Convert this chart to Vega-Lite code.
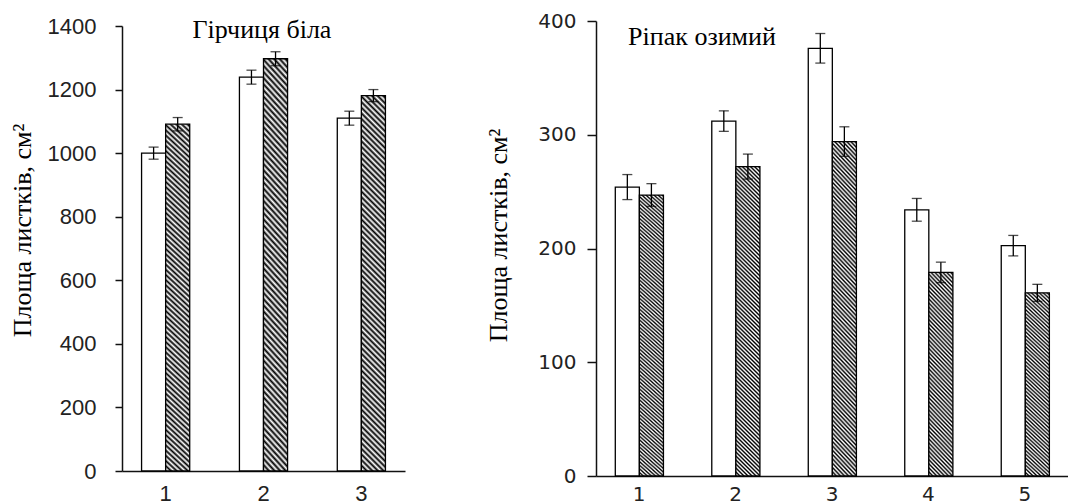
{
"$schema": "https://vega.github.io/schema/vega-lite/v6.json",
"background": "white",
"padding": {"left": 9, "top": 11, "right": 0, "bottom": 0},
"config": {
 "view": {"stroke": null},
 "axis": {"grid": false, "domainColor": "#111", "domainWidth": 1.5, "tickColor": "#111", "tickWidth": 1.5, "labelColor": "#222", "labelFont": "Liberation Sans", "titleFont": "Liberation Serif", "titleFontWeight": "normal", "titleColor": "#000"}
},
"datasets": {
 "g": [
  {"c": "1", "g": "a", "v": 1000, "lo": 981, "hi": 1019},
  {"c": "1", "g": "b", "v": 1091, "lo": 1070, "hi": 1112},
  {"c": "2", "g": "a", "v": 1239, "lo": 1217, "hi": 1261},
  {"c": "2", "g": "b", "v": 1297, "lo": 1275, "hi": 1319},
  {"c": "3", "g": "a", "v": 1110, "lo": 1088, "hi": 1132},
  {"c": "3", "g": "b", "v": 1181, "lo": 1162, "hi": 1200}
 ],
 "r": [
  {"c": "1", "g": "a", "v": 254, "lo": 243, "hi": 265},
  {"c": "1", "g": "b", "v": 247, "lo": 237, "hi": 257},
  {"c": "2", "g": "a", "v": 312, "lo": 303, "hi": 321},
  {"c": "2", "g": "b", "v": 272, "lo": 261, "hi": 283},
  {"c": "3", "g": "a", "v": 376, "lo": 363, "hi": 389},
  {"c": "3", "g": "b", "v": 294, "lo": 281, "hi": 307},
  {"c": "4", "g": "a", "v": 234, "lo": 224, "hi": 244},
  {"c": "4", "g": "b", "v": 179, "lo": 170, "hi": 188},
  {"c": "5", "g": "a", "v": 202.5, "lo": 193.5, "hi": 211.5},
  {"c": "5", "g": "b", "v": 161, "lo": 153.5, "hi": 168.5}
 ]
},
"spacing": 191,
"bounds": "flush",
"center": true,
"hconcat": [
 {
  "width": 283, "height": 445,
  "data": {"name": "g"},
  "encoding": {
   "x": {"field": "c", "type": "nominal", "scale": {"paddingInner": 0.508, "paddingOuter": 0.2}, "axis": {"title": null, "labelAngle": 0, "ticks": false, "tickSize": 0, "labelPadding": 12, "labelFontSize": 22}},
   "xOffset": {"field": "g", "type": "nominal", "scale": {"domain": ["a", "b"]}}
  },
  "layer": [
   {"transform": [{"filter": "datum.g=='a'"}], "mark": {"type": "bar", "fill": "#fff", "stroke": "#000", "strokeWidth": 1.3},
    "encoding": {"y": {"field": "v", "type": "quantitative", "title": "Площа листків, см²", "scale": {"domain": [0, 1400]}, "axis": {"values": [0, 200, 400, 600, 800, 1000, 1200, 1400], "format": "d", "tickSize": 7, "labelPadding": 19, "labelFontSize": 22, "titleFontSize": 26, "titlePadding": 12, "titleY": 204}}}},
   {"transform": [{"filter": "datum.g=='b'"}], "mark": {"type": "bar", "stroke": "#000", "strokeWidth": 1.3, "fill": {"gradient": "linear", "x1": 0, "y1": 1, "x2": 0.0679, "y2": -0.0596, "stops": [
{"offset":0,"color":"#000"},{"offset":0.007,"color":"#fff"},{"offset":0.014,"color":"#000"},{"offset":0.021,"color":"#fff"},{"offset":0.028,"color":"#000"},{"offset":0.035,"color":"#fff"},{"offset":0.042,"color":"#000"},{"offset":0.049,"color":"#fff"},{"offset":0.056,"color":"#000"},{"offset":0.063,"color":"#fff"},
{"offset":0.07,"color":"#000"},{"offset":0.077,"color":"#fff"},{"offset":0.084,"color":"#000"},{"offset":0.091,"color":"#fff"},{"offset":0.098,"color":"#000"},{"offset":0.105,"color":"#fff"},{"offset":0.112,"color":"#000"},{"offset":0.119,"color":"#fff"},{"offset":0.126,"color":"#000"},{"offset":0.133,"color":"#fff"},
{"offset":0.14,"color":"#000"},{"offset":0.147,"color":"#fff"},{"offset":0.154,"color":"#000"},{"offset":0.161,"color":"#fff"},{"offset":0.168,"color":"#000"},{"offset":0.175,"color":"#fff"},{"offset":0.182,"color":"#000"},{"offset":0.189,"color":"#fff"},{"offset":0.196,"color":"#000"},{"offset":0.203,"color":"#fff"},
{"offset":0.21,"color":"#000"},{"offset":0.217,"color":"#fff"},{"offset":0.224,"color":"#000"},{"offset":0.231,"color":"#fff"},{"offset":0.238,"color":"#000"},{"offset":0.245,"color":"#fff"},{"offset":0.252,"color":"#000"},{"offset":0.259,"color":"#fff"},{"offset":0.266,"color":"#000"},{"offset":0.273,"color":"#fff"},
{"offset":0.28,"color":"#000"},{"offset":0.287,"color":"#fff"},{"offset":0.294,"color":"#000"},{"offset":0.301,"color":"#fff"},{"offset":0.308,"color":"#000"},{"offset":0.315,"color":"#fff"},{"offset":0.322,"color":"#000"},{"offset":0.329,"color":"#fff"},{"offset":0.336,"color":"#000"},{"offset":0.343,"color":"#fff"},
{"offset":0.35,"color":"#000"},{"offset":0.357,"color":"#fff"},{"offset":0.364,"color":"#000"},{"offset":0.371,"color":"#fff"},{"offset":0.378,"color":"#000"},{"offset":0.385,"color":"#fff"},{"offset":0.392,"color":"#000"},{"offset":0.399,"color":"#fff"},{"offset":0.406,"color":"#000"},{"offset":0.413,"color":"#fff"},
{"offset":0.42,"color":"#000"},{"offset":0.427,"color":"#fff"},{"offset":0.434,"color":"#000"},{"offset":0.441,"color":"#fff"},{"offset":0.448,"color":"#000"},{"offset":0.455,"color":"#fff"},{"offset":0.462,"color":"#000"},{"offset":0.469,"color":"#fff"},{"offset":0.476,"color":"#000"},{"offset":0.483,"color":"#fff"},
{"offset":0.49,"color":"#000"},{"offset":0.497,"color":"#fff"},{"offset":0.504,"color":"#000"},{"offset":0.511,"color":"#fff"},{"offset":0.518,"color":"#000"},{"offset":0.525,"color":"#fff"},{"offset":0.532,"color":"#000"},{"offset":0.539,"color":"#fff"},{"offset":0.546,"color":"#000"},{"offset":0.553,"color":"#fff"},
{"offset":0.56,"color":"#000"},{"offset":0.567,"color":"#fff"},{"offset":0.574,"color":"#000"},{"offset":0.581,"color":"#fff"},{"offset":0.588,"color":"#000"},{"offset":0.595,"color":"#fff"},{"offset":0.602,"color":"#000"},{"offset":0.609,"color":"#fff"},{"offset":0.616,"color":"#000"},{"offset":0.623,"color":"#fff"},
{"offset":0.63,"color":"#000"},{"offset":0.637,"color":"#fff"},{"offset":0.644,"color":"#000"},{"offset":0.651,"color":"#fff"},{"offset":0.658,"color":"#000"},{"offset":0.665,"color":"#fff"},{"offset":0.672,"color":"#000"},{"offset":0.679,"color":"#fff"},{"offset":0.686,"color":"#000"},{"offset":0.693,"color":"#fff"},
{"offset":0.7,"color":"#000"},{"offset":0.707,"color":"#fff"},{"offset":0.714,"color":"#000"},{"offset":0.721,"color":"#fff"},{"offset":0.728,"color":"#000"},{"offset":0.735,"color":"#fff"},{"offset":0.742,"color":"#000"},{"offset":0.749,"color":"#fff"},{"offset":0.756,"color":"#000"},{"offset":0.763,"color":"#fff"},
{"offset":0.77,"color":"#000"},{"offset":0.777,"color":"#fff"},{"offset":0.784,"color":"#000"},{"offset":0.791,"color":"#fff"},{"offset":0.798,"color":"#000"},{"offset":0.805,"color":"#fff"},{"offset":0.812,"color":"#000"},{"offset":0.819,"color":"#fff"},{"offset":0.826,"color":"#000"},{"offset":0.833,"color":"#fff"},
{"offset":0.84,"color":"#000"},{"offset":0.847,"color":"#fff"},{"offset":0.854,"color":"#000"},{"offset":0.861,"color":"#fff"},{"offset":0.868,"color":"#000"},{"offset":0.875,"color":"#fff"},{"offset":0.882,"color":"#000"},{"offset":0.889,"color":"#fff"},{"offset":0.896,"color":"#000"},{"offset":0.903,"color":"#fff"},
{"offset":0.91,"color":"#000"},{"offset":0.917,"color":"#fff"},{"offset":0.924,"color":"#000"},{"offset":0.931,"color":"#fff"},{"offset":0.938,"color":"#000"},{"offset":0.945,"color":"#fff"},{"offset":0.952,"color":"#000"},{"offset":0.959,"color":"#fff"},{"offset":0.966,"color":"#000"},{"offset":0.973,"color":"#fff"},
{"offset":0.98,"color":"#000"},{"offset":0.987,"color":"#fff"},{"offset":0.994,"color":"#000"}
]}},
    "encoding": {"y": {"field": "v", "type": "quantitative", "title": "Площа листків, см²"}}},
   {"mark": {"type": "rule", "stroke": "#000", "strokeWidth": 1.3}, "encoding": {"y": {"field": "lo", "type": "quantitative", "title": "Площа листків, см²"}, "y2": {"field": "hi"}}},
   {"mark": {"type": "tick", "orient": "horizontal", "size": 10, "thickness": 1.3, "color": "#000"}, "encoding": {"y": {"field": "lo", "type": "quantitative", "title": "Площа листків, см²"}}},
   {"mark": {"type": "tick", "orient": "horizontal", "size": 10, "thickness": 1.3, "color": "#000"}, "encoding": {"y": {"field": "hi", "type": "quantitative", "title": "Площа листків, см²"}}},
   {"data": {"values": [{"t": "Гірчиця біла"}]}, "mark": {"type": "text", "font": "Liberation Serif", "fontSize": 26, "color": "#000", "align": "center", "baseline": "alphabetic", "dx": 22.5, "dy": 11.5},
    "encoding": {"x": {"datum": "2"}, "xOffset": {"value": 0}, "y": {"datum": 1400}, "text": {"field": "t"}}}
  ]
 },
 {
  "width": 472, "height": 455,
  "data": {"name": "r"},
  "encoding": {
   "x": {"field": "c", "type": "nominal", "scale": {"paddingInner": 0.508, "paddingOuter": 0.2}, "axis": {"title": null, "labelAngle": 0, "ticks": false, "tickSize": 0, "labelPadding": 8, "labelFontSize": 20, "labelFont": "DejaVu Sans"}},
   "xOffset": {"field": "g", "type": "nominal", "scale": {"domain": ["a", "b"]}}
  },
  "layer": [
   {"transform": [{"filter": "datum.g=='a'"}], "mark": {"type": "bar", "fill": "#fff", "stroke": "#000", "strokeWidth": 1.3},
    "encoding": {"y": {"field": "v", "type": "quantitative", "title": "Площа листків, см²", "scale": {"domain": [0, 400]}, "axis": {"values": [0, 100, 200, 300, 400], "tickSize": 9, "labelPadding": 11, "labelFontSize": 20, "labelFont": "DejaVu Sans", "titleFontSize": 26, "titlePadding": 26, "titleY": 214}}}},
   {"transform": [{"filter": "datum.g=='b' && (datum.c=='1' || datum.c=='2' || datum.c=='3')"}], "mark": {"type": "bar", "stroke": "#000", "strokeWidth": 1.3, "fill": {"gradient": "linear", "x1": 0, "y1": 1, "x2": 0.0821, "y2": -0.0703, "stops": [
{"offset":0,"color":"#000"},{"offset":0.006,"color":"#fff"},{"offset":0.012,"color":"#000"},{"offset":0.018,"color":"#fff"},{"offset":0.024,"color":"#000"},{"offset":0.03,"color":"#fff"},{"offset":0.036,"color":"#000"},{"offset":0.042,"color":"#fff"},{"offset":0.048,"color":"#000"},{"offset":0.054,"color":"#fff"},
{"offset":0.06,"color":"#000"},{"offset":0.066,"color":"#fff"},{"offset":0.072,"color":"#000"},{"offset":0.078,"color":"#fff"},{"offset":0.084,"color":"#000"},{"offset":0.09,"color":"#fff"},{"offset":0.096,"color":"#000"},{"offset":0.102,"color":"#fff"},{"offset":0.108,"color":"#000"},{"offset":0.114,"color":"#fff"},
{"offset":0.12,"color":"#000"},{"offset":0.126,"color":"#fff"},{"offset":0.132,"color":"#000"},{"offset":0.138,"color":"#fff"},{"offset":0.144,"color":"#000"},{"offset":0.15,"color":"#fff"},{"offset":0.156,"color":"#000"},{"offset":0.162,"color":"#fff"},{"offset":0.168,"color":"#000"},{"offset":0.174,"color":"#fff"},
{"offset":0.18,"color":"#000"},{"offset":0.186,"color":"#fff"},{"offset":0.192,"color":"#000"},{"offset":0.198,"color":"#fff"},{"offset":0.204,"color":"#000"},{"offset":0.21,"color":"#fff"},{"offset":0.216,"color":"#000"},{"offset":0.222,"color":"#fff"},{"offset":0.228,"color":"#000"},{"offset":0.234,"color":"#fff"},
{"offset":0.24,"color":"#000"},{"offset":0.246,"color":"#fff"},{"offset":0.252,"color":"#000"},{"offset":0.258,"color":"#fff"},{"offset":0.264,"color":"#000"},{"offset":0.27,"color":"#fff"},{"offset":0.276,"color":"#000"},{"offset":0.282,"color":"#fff"},{"offset":0.288,"color":"#000"},{"offset":0.294,"color":"#fff"},
{"offset":0.3,"color":"#000"},{"offset":0.306,"color":"#fff"},{"offset":0.312,"color":"#000"},{"offset":0.318,"color":"#fff"},{"offset":0.324,"color":"#000"},{"offset":0.33,"color":"#fff"},{"offset":0.336,"color":"#000"},{"offset":0.342,"color":"#fff"},{"offset":0.348,"color":"#000"},{"offset":0.354,"color":"#fff"},
{"offset":0.36,"color":"#000"},{"offset":0.366,"color":"#fff"},{"offset":0.372,"color":"#000"},{"offset":0.378,"color":"#fff"},{"offset":0.384,"color":"#000"},{"offset":0.39,"color":"#fff"},{"offset":0.396,"color":"#000"},{"offset":0.402,"color":"#fff"},{"offset":0.408,"color":"#000"},{"offset":0.414,"color":"#fff"},
{"offset":0.42,"color":"#000"},{"offset":0.426,"color":"#fff"},{"offset":0.432,"color":"#000"},{"offset":0.438,"color":"#fff"},{"offset":0.444,"color":"#000"},{"offset":0.45,"color":"#fff"},{"offset":0.456,"color":"#000"},{"offset":0.462,"color":"#fff"},{"offset":0.468,"color":"#000"},{"offset":0.474,"color":"#fff"},
{"offset":0.48,"color":"#000"},{"offset":0.486,"color":"#fff"},{"offset":0.492,"color":"#000"},{"offset":0.498,"color":"#fff"},{"offset":0.504,"color":"#000"},{"offset":0.51,"color":"#fff"},{"offset":0.516,"color":"#000"},{"offset":0.522,"color":"#fff"},{"offset":0.528,"color":"#000"},{"offset":0.534,"color":"#fff"},
{"offset":0.54,"color":"#000"},{"offset":0.546,"color":"#fff"},{"offset":0.552,"color":"#000"},{"offset":0.558,"color":"#fff"},{"offset":0.564,"color":"#000"},{"offset":0.57,"color":"#fff"},{"offset":0.576,"color":"#000"},{"offset":0.582,"color":"#fff"},{"offset":0.588,"color":"#000"},{"offset":0.594,"color":"#fff"},
{"offset":0.6,"color":"#000"},{"offset":0.606,"color":"#fff"},{"offset":0.612,"color":"#000"},{"offset":0.618,"color":"#fff"},{"offset":0.624,"color":"#000"},{"offset":0.63,"color":"#fff"},{"offset":0.636,"color":"#000"},{"offset":0.642,"color":"#fff"},{"offset":0.648,"color":"#000"},{"offset":0.654,"color":"#fff"},
{"offset":0.66,"color":"#000"},{"offset":0.666,"color":"#fff"},{"offset":0.672,"color":"#000"},{"offset":0.678,"color":"#fff"},{"offset":0.684,"color":"#000"},{"offset":0.69,"color":"#fff"},{"offset":0.696,"color":"#000"},{"offset":0.702,"color":"#fff"},{"offset":0.708,"color":"#000"},{"offset":0.714,"color":"#fff"},
{"offset":0.72,"color":"#000"},{"offset":0.726,"color":"#fff"},{"offset":0.732,"color":"#000"},{"offset":0.738,"color":"#fff"},{"offset":0.744,"color":"#000"},{"offset":0.75,"color":"#fff"},{"offset":0.756,"color":"#000"},{"offset":0.762,"color":"#fff"},{"offset":0.768,"color":"#000"},{"offset":0.774,"color":"#fff"},
{"offset":0.78,"color":"#000"},{"offset":0.786,"color":"#fff"},{"offset":0.792,"color":"#000"},{"offset":0.798,"color":"#fff"},{"offset":0.804,"color":"#000"},{"offset":0.81,"color":"#fff"},{"offset":0.816,"color":"#000"},{"offset":0.822,"color":"#fff"},{"offset":0.828,"color":"#000"},{"offset":0.834,"color":"#fff"},
{"offset":0.84,"color":"#000"},{"offset":0.846,"color":"#fff"},{"offset":0.852,"color":"#000"},{"offset":0.858,"color":"#fff"},{"offset":0.864,"color":"#000"},{"offset":0.87,"color":"#fff"},{"offset":0.876,"color":"#000"},{"offset":0.882,"color":"#fff"},{"offset":0.888,"color":"#000"},{"offset":0.894,"color":"#fff"},
{"offset":0.9,"color":"#000"},{"offset":0.906,"color":"#fff"},{"offset":0.912,"color":"#000"},{"offset":0.918,"color":"#fff"},{"offset":0.924,"color":"#000"},{"offset":0.93,"color":"#fff"},{"offset":0.936,"color":"#000"},{"offset":0.942,"color":"#fff"},{"offset":0.948,"color":"#000"},{"offset":0.954,"color":"#fff"},
{"offset":0.96,"color":"#000"},{"offset":0.966,"color":"#fff"},{"offset":0.972,"color":"#000"},{"offset":0.978,"color":"#fff"},{"offset":0.984,"color":"#000"},{"offset":0.99,"color":"#fff"},{"offset":0.996,"color":"#000"}
]}},
    "encoding": {"y": {"field": "v", "type": "quantitative", "title": "Площа листків, см²"}}},
   {"transform": [{"filter": "datum.g=='b' && (datum.c=='4' || datum.c=='5')"}], "mark": {"type": "bar", "stroke": "#000", "strokeWidth": 1.3, "fill": {"gradient": "linear", "x1": 0, "y1": 1, "x2": 0.1366, "y2": -0.1066, "stops": [
{"offset":0,"color":"#000"},{"offset":0.009,"color":"#fff"},{"offset":0.018,"color":"#000"},{"offset":0.027,"color":"#fff"},{"offset":0.036,"color":"#000"},{"offset":0.045,"color":"#fff"},{"offset":0.054,"color":"#000"},{"offset":0.063,"color":"#fff"},{"offset":0.072,"color":"#000"},{"offset":0.081,"color":"#fff"},
{"offset":0.09,"color":"#000"},{"offset":0.099,"color":"#fff"},{"offset":0.108,"color":"#000"},{"offset":0.117,"color":"#fff"},{"offset":0.126,"color":"#000"},{"offset":0.135,"color":"#fff"},{"offset":0.144,"color":"#000"},{"offset":0.153,"color":"#fff"},{"offset":0.162,"color":"#000"},{"offset":0.171,"color":"#fff"},
{"offset":0.18,"color":"#000"},{"offset":0.189,"color":"#fff"},{"offset":0.198,"color":"#000"},{"offset":0.207,"color":"#fff"},{"offset":0.216,"color":"#000"},{"offset":0.225,"color":"#fff"},{"offset":0.234,"color":"#000"},{"offset":0.243,"color":"#fff"},{"offset":0.252,"color":"#000"},{"offset":0.261,"color":"#fff"},
{"offset":0.27,"color":"#000"},{"offset":0.279,"color":"#fff"},{"offset":0.288,"color":"#000"},{"offset":0.297,"color":"#fff"},{"offset":0.306,"color":"#000"},{"offset":0.315,"color":"#fff"},{"offset":0.324,"color":"#000"},{"offset":0.333,"color":"#fff"},{"offset":0.342,"color":"#000"},{"offset":0.351,"color":"#fff"},
{"offset":0.36,"color":"#000"},{"offset":0.369,"color":"#fff"},{"offset":0.378,"color":"#000"},{"offset":0.387,"color":"#fff"},{"offset":0.396,"color":"#000"},{"offset":0.405,"color":"#fff"},{"offset":0.414,"color":"#000"},{"offset":0.423,"color":"#fff"},{"offset":0.432,"color":"#000"},{"offset":0.441,"color":"#fff"},
{"offset":0.45,"color":"#000"},{"offset":0.459,"color":"#fff"},{"offset":0.468,"color":"#000"},{"offset":0.477,"color":"#fff"},{"offset":0.486,"color":"#000"},{"offset":0.495,"color":"#fff"},{"offset":0.504,"color":"#000"},{"offset":0.513,"color":"#fff"},{"offset":0.522,"color":"#000"},{"offset":0.531,"color":"#fff"},
{"offset":0.54,"color":"#000"},{"offset":0.549,"color":"#fff"},{"offset":0.558,"color":"#000"},{"offset":0.567,"color":"#fff"},{"offset":0.576,"color":"#000"},{"offset":0.585,"color":"#fff"},{"offset":0.594,"color":"#000"},{"offset":0.603,"color":"#fff"},{"offset":0.612,"color":"#000"},{"offset":0.621,"color":"#fff"},
{"offset":0.63,"color":"#000"},{"offset":0.639,"color":"#fff"},{"offset":0.648,"color":"#000"},{"offset":0.657,"color":"#fff"},{"offset":0.666,"color":"#000"},{"offset":0.675,"color":"#fff"},{"offset":0.684,"color":"#000"},{"offset":0.693,"color":"#fff"},{"offset":0.702,"color":"#000"},{"offset":0.711,"color":"#fff"},
{"offset":0.72,"color":"#000"},{"offset":0.729,"color":"#fff"},{"offset":0.738,"color":"#000"},{"offset":0.747,"color":"#fff"},{"offset":0.756,"color":"#000"},{"offset":0.765,"color":"#fff"},{"offset":0.774,"color":"#000"},{"offset":0.783,"color":"#fff"},{"offset":0.792,"color":"#000"},{"offset":0.801,"color":"#fff"},
{"offset":0.81,"color":"#000"},{"offset":0.819,"color":"#fff"},{"offset":0.828,"color":"#000"},{"offset":0.837,"color":"#fff"},{"offset":0.846,"color":"#000"},{"offset":0.855,"color":"#fff"},{"offset":0.864,"color":"#000"},{"offset":0.873,"color":"#fff"},{"offset":0.882,"color":"#000"},{"offset":0.891,"color":"#fff"},
{"offset":0.9,"color":"#000"},{"offset":0.909,"color":"#fff"},{"offset":0.918,"color":"#000"},{"offset":0.927,"color":"#fff"},{"offset":0.936,"color":"#000"},{"offset":0.945,"color":"#fff"},{"offset":0.954,"color":"#000"},{"offset":0.963,"color":"#fff"},{"offset":0.972,"color":"#000"},{"offset":0.981,"color":"#fff"},
{"offset":0.99,"color":"#000"},{"offset":0.999,"color":"#fff"}
]}},
    "encoding": {"y": {"field": "v", "type": "quantitative", "title": "Площа листків, см²"}}},
   {"mark": {"type": "rule", "stroke": "#000", "strokeWidth": 1.3}, "encoding": {"y": {"field": "lo", "type": "quantitative", "title": "Площа листків, см²"}, "y2": {"field": "hi"}}},
   {"mark": {"type": "tick", "orient": "horizontal", "size": 10, "thickness": 1.3, "color": "#000"}, "encoding": {"y": {"field": "lo", "type": "quantitative", "title": "Площа листків, см²"}}},
   {"mark": {"type": "tick", "orient": "horizontal", "size": 10, "thickness": 1.3, "color": "#000"}, "encoding": {"y": {"field": "hi", "type": "quantitative", "title": "Площа листків, см²"}}},
   {"data": {"values": [{"t": "Ріпак озимий"}]}, "mark": {"type": "text", "font": "Liberation Serif", "fontSize": 26, "color": "#000", "align": "center", "baseline": "alphabetic", "dx": 86.7, "dy": 23.5},
    "encoding": {"x": {"datum": "1"}, "xOffset": {"value": 0}, "y": {"datum": 400}, "text": {"field": "t"}}}
  ]
 }
]
}
